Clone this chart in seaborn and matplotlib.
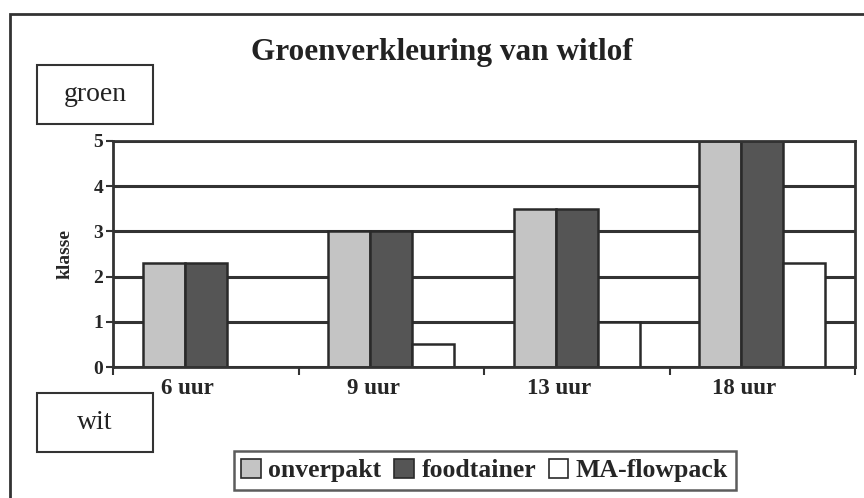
import matplotlib
matplotlib.use('Agg')
import matplotlib.pyplot as plt
import matplotlib.patches as mpatches
from matplotlib.transforms import ScaledTranslation
import seaborn as sns
import pandas as pd

# Gegevens
tijden = ['6 uur', '9 uur', '13 uur', '18 uur']
verpakkingen = ['onverpakt', 'foodtainer', 'MA-flowpack']
onverpakt = [2.3, 3.0, 3.5, 5.0]
foodtainer = [2.3, 3.0, 3.5, 5.0]
ma_flowpack = [0.0, 0.5, 1.0, 2.3]
kleuren = ['#c4c4c4', '#555555', '#ffffff']

df = pd.DataFrame({
    'tijd': tijden * 3,
    'verpakking': ['onverpakt'] * 4 + ['foodtainer'] * 4 + ['MA-flowpack'] * 4,
    'klasse': onverpakt + foodtainer + ma_flowpack,
})

sns.set_style("white")
plt.rcParams['font.family'] = ['Liberation Serif', 'DejaVu Serif']

fig = plt.figure(figsize=(8.64, 4.98), dpi=100)
ax = fig.add_axes([0.1308, 0.263, 0.8588, 0.4539])

sns.barplot(data=df, x='tijd', y='klasse', hue='verpakking', order=tijden,
            hue_order=verpakkingen, palette=kleuren, width=0.68,
            edgecolor='#2a2a2a', linewidth=1.8, saturation=1, ax=ax, legend=False)

ax.set_xlim(-0.5, 3.5)
ax.set_ylim(0, 5)
ax.set_yticks(range(6))
ax.yaxis.grid(True, color='#333333', linewidth=2.2)
ax.set_axisbelow(True)
for s in ax.spines.values():
    s.set_color('#333333')
    s.set_linewidth(2.0)

# tickstreepjes op de grenzen, labels in het midden
ax.set_xticks([-0.5, 0.5, 1.5, 2.5, 3.5])
ax.set_xticklabels([])
ax.tick_params(axis='x', which='major', bottom=True, direction='out', length=6,
               width=1.5, color='#333333')
ax.set_xticks(range(4), minor=True)
ax.set_xticklabels(tijden, minor=True, fontsize=16.5, fontweight='bold')
ax.tick_params(axis='x', which='minor', bottom=True, length=0, pad=8)
for lbl in ax.get_xticklabels(minor=True):
    lbl.set_transform(lbl.get_transform() + ScaledTranslation(-0.18, 0, fig.dpi_scale_trans))

ax.tick_params(axis='y', left=True, direction='out', length=5, width=1.5, color='#333333',
               labelsize=14, pad=2)
for lbl in ax.get_yticklabels():
    lbl.set_fontweight('bold')

ax.set_xlabel('')
ax.set_ylabel('klasse', fontsize=14, fontweight='bold', labelpad=14)

fig.text(0.512, 0.895, 'Groenverkleuring van witlof', ha='center', va='center',
         fontsize=22.5, fontweight='bold', color='#222222')

# kaders "groen" en "wit"
for txt, y0 in [('groen', 0.752), ('wit', 0.092)]:
    fig.add_artist(mpatches.Rectangle((0.043, y0), 0.134, 0.118, transform=fig.transFigure,
                                      fill=False, edgecolor='#333333', linewidth=1.5))
    fig.text(0.11, y0 + 0.059, txt, ha='center', va='center', fontsize=20, color='#222222')

# buitenrand van de grafiek
fig.add_artist(mpatches.Rectangle((0.012, -0.01), 1.0, 0.982, transform=fig.transFigure,
                                  fill=False, edgecolor='#333333', linewidth=2))

handles = [mpatches.Patch(facecolor=c, edgecolor='#2a2a2a', linewidth=1.2, label=l)
           for c, l in zip(kleuren, verpakkingen)]
leg = fig.legend(handles=handles, loc='center', bbox_to_anchor=(0.561, 0.055), ncol=3,
                 frameon=True, fancybox=False, edgecolor='#333333', handlelength=0.75,
                 handleheight=0.75, handletextpad=0.3, columnspacing=0.5, borderpad=0.3,
                 prop={'family': 'Liberation Serif', 'weight': 'bold', 'size': 18.5})
leg.get_frame().set_linewidth(1.8)

fig.savefig('out.png', dpi=100)
